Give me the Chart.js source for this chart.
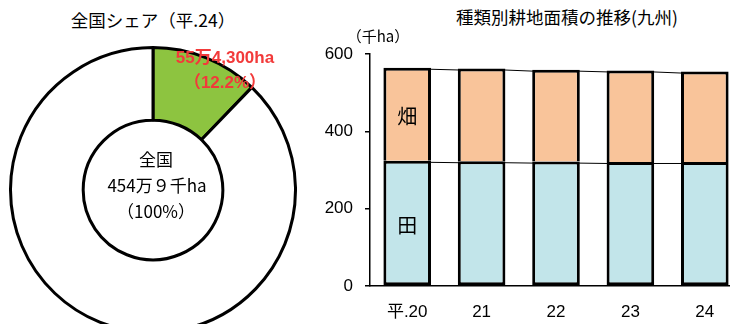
<!DOCTYPE html>
<html lang="ja">
<head>
  <meta charset="UTF-8">
  <title>九州 耕地面積</title>
  <script src="https://cdn.jsdelivr.net/npm/chart.js"></script>
  <style>
    html, body { margin: 0; padding: 0; background: #fff; }
    body { width: 730px; height: 324px; overflow: hidden; position: relative;
           font-family: "Noto Sans CJK JP", "Liberation Sans", sans-serif; color: #000; }
    .txt { position: absolute; white-space: nowrap; width: max-content; transform: translate(-50%, -50%); line-height: 1; }
    #donutWrap { position: absolute; left: 9px; top: 46px; width: 288px; height: 288px; }
    #barWrap { position: absolute; left: 320px; top: 32px; width: 430px; height: 292px; }
  </style>
</head>
<body>

  <!-- 左：全国シェア -->
  <div class="txt" style="left:153px; top:20px; font-size:17.5px;">全国シェア（平.24）</div>
  <div id="donutWrap"><canvas id="donut" width="288" height="288"></canvas></div>
  <div class="txt" style="left:156px; top:158px; font-size:17px;">全国</div>
  <div class="txt" style="left:157px; top:184px; font-size:17px;">454万９千ha</div>
  <div class="txt" style="left:156px; top:210px; font-size:17px;">（100%）</div>
  <div class="txt" style="left:225px; top:57px; font-size:17px; font-weight:bold; color:#f23a3a; font-family:'Liberation Sans','Noto Sans CJK JP',sans-serif;">55万4,300ha</div>
  <div class="txt" style="left:225px; top:82px; font-size:17px; font-weight:bold; color:#f23a3a; font-family:'Liberation Sans','Noto Sans CJK JP',sans-serif;">（12.2%）</div>

  <!-- 右：種類別耕地面積の推移 -->
  <div class="txt" style="left:567px; top:17px; font-size:17.5px;">種類別耕地面積の推移(九州)</div>
  <div class="txt" style="left:378px; top:35px; font-size:15px;">（千ha）</div>
  <div id="barWrap"><canvas id="bars" width="430" height="292"></canvas></div>

  <script>
    // 全国シェア（%）
    const shareLabels = ['九州', 'その他'];
    const shareValues = [12.2, 87.8];

    // 耕地面積（千ha）
    const years = ['平.20', '21', '22', '23', '24'];
    const paddy = [324, 323, 322, 321, 321];   // 田
    const upland = [241, 240, 238, 237, 234];  // 畑
    const yTicks = [0, 200, 400, 600];

    new Chart(document.getElementById('donut'), {
      type: 'doughnut',
      data: {
        labels: shareLabels,
        datasets: [{
          data: shareValues,
          backgroundColor: ['#8dc440', '#ffffff'],
          borderColor: '#000',
          borderWidth: 3
        }]
      },
      options: {
        responsive: false,
        animation: false,
        cutout: '49%',
        plugins: { legend: { display: false }, tooltip: { enabled: false } }
      }
    });

    // 棒の上端をつなぐ線と、1本目の棒の中の「田」「畑」
    const barExtras = {
      id: 'barExtras',
      afterDatasetsDraw(chart) {
        const ctx = chart.ctx;
        ctx.save();
        ctx.strokeStyle = '#000';
        ctx.lineWidth = 1;
        chart.data.datasets.forEach((ds, i) => {
          const bars = chart.getDatasetMeta(i).data;
          for (let k = 0; k < bars.length - 1; k++) {
            const a = bars[k], b = bars[k + 1];
            ctx.beginPath();
            ctx.moveTo(a.x + a.width / 2 - 1, a.y + 1.5);
            ctx.lineTo(b.x - b.width / 2 + 1, b.y + 1.5);
            ctx.stroke();
          }
          const first = bars[0];
          ctx.fillStyle = '#000';
          ctx.font = '20px "Noto Sans CJK JP"';
          ctx.textAlign = 'center';
          ctx.textBaseline = 'middle';
          ctx.fillText(ds.label, first.x, (first.y + first.base) / 2 + 2);
        });
        ctx.restore();
      }
    };

    new Chart(document.getElementById('bars'), {
      type: 'bar',
      data: {
        labels: years,
        datasets: [
          { label: '田', data: paddy, backgroundColor: '#c2e5ea', borderColor: '#000',
            borderWidth: 3, borderSkipped: false },
          { label: '畑', data: upland, backgroundColor: '#f9c49a', borderColor: '#000',
            borderWidth: 3, borderSkipped: 'start' }
        ]
      },
      options: {
        responsive: false,
        animation: false,
        layout: { padding: { top: 0, right: 8, left: 0, bottom: 0 } },
        datasets: { bar: { barPercentage: 0.64, categoryPercentage: 1 } },
        plugins: { legend: { display: false }, tooltip: { enabled: false } },
        scales: {
          x: {
            stacked: true,
            grid: { display: false, drawTicks: false },
            border: { color: '#000', width: 1.5 },
            ticks: { color: '#000', padding: 16, font: { family: 'Liberation Sans, Noto Sans CJK JP', size: 17 } },
            afterFit(s) { s.height = 38; }
          },
          y: {
            stacked: true,
            min: 0,
            max: 600,
            afterBuildTicks(s) { s.ticks = yTicks.map(v => ({ value: v })); },
            grid: { drawOnChartArea: false, drawTicks: true, tickLength: 5, color: '#000', lineWidth: 1.5 },
            border: { color: '#000', width: 1.5 },
            ticks: { color: '#000', padding: 12, font: { family: 'Liberation Sans', size: 17 } },
            afterFit(s) { s.width = 50; }
          }
        }
      },
      plugins: [barExtras]
    });
  </script>
</body>
</html>
